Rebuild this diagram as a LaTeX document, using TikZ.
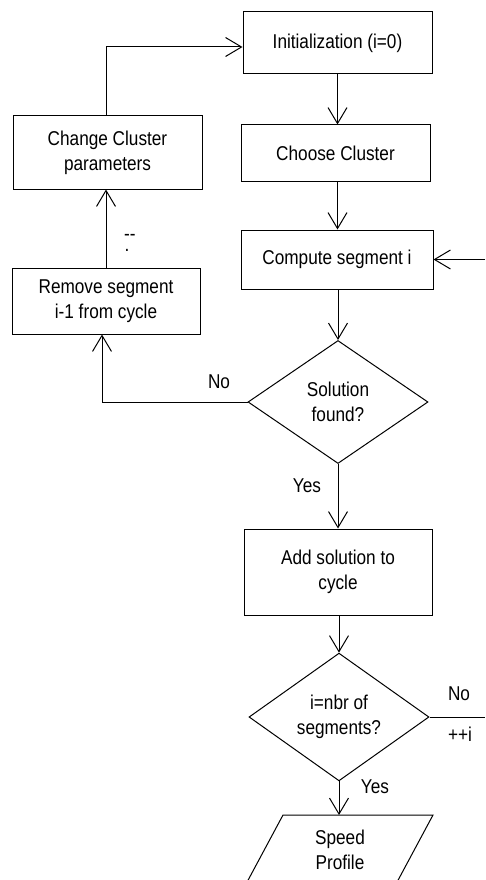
\documentclass[tikz,border=0pt]{standalone}
\usepackage{fontspec}
\setmainfont{Liberation Sans}[FakeStretch=0.86]
\usetikzlibrary{arrows.meta,shapes.geometric}

\tikzset{
  every node/.style={font=\fontsize{20}{25}\selectfont},
  procbox/.style={draw, line width=1pt, rectangle, inner sep=0pt, align=center},
  decision/.style={draw, line width=1pt, diamond, inner sep=0pt, align=center,
    minimum width=180pt, minimum height=123pt},
  link/.style={line width=1pt},
  flow/.style={link, -{Straight Barb[length=16pt,width=19pt,line width=1pt]}},
  tag/.style={inner sep=0pt}
}

\begin{document}
\begin{tikzpicture}[x=1pt,y=-1pt]
  \useasboundingbox (0,0) rectangle (485,880);

  % process boxes
  \node[procbox, minimum width=189pt, minimum height=62pt] (init) at (337.5,43) {Initialization (i=0)};
  \node[procbox, minimum width=189pt, minimum height=56pt] (choose) at (335.5,153) {Choose Cluster};
  \node[procbox, minimum width=189pt, minimum height=73pt] (change) at (107.5,152.5) {Change Cluster\\parameters};
  \node[procbox, minimum width=192pt, minimum height=59pt] (compute) at (337,259.5) {Compute segment i};
  \node[procbox, minimum width=188pt, minimum height=66pt] (remove) at (106,301) {Remove segment\\i-1 from cycle};
  \node[procbox, minimum width=188pt, minimum height=86pt] (add) at (338,572) {Add solution to\\cycle};

  % decisions
  \node[decision] (found) at (338,402) {Solution\\found?};
  \node[decision, minimum height=125pt] (last) at (339,717) {i=nbr of\\segments?};

  % output parallelogram (runs past the lower edge)
  \coordinate (spdtop) at (339,815);
  \draw[link] (283,815) -- (433,815) -- (390.1,895) -- (240.1,895) -- cycle;
  \node[tag, align=center] (speed) at (340,850) {Speed\\Profile};

  % side coordinates
  \coordinate (rightlow) at (485,717);
  \coordinate (rightup) at (485,259.5);

  % main column
  \draw[flow] (init.south) -- (init.south |- choose.north);
  \draw[flow] (init.south |- choose.south) -- (init.south |- compute.north);
  \draw[flow] (compute.south -| found.north) -- (found.north);
  \draw[flow] (found.south) -- (found.south |- add.north);
  \draw[flow] (add.south -| last.north) -- (last.north);
  \draw[flow] (last.south) -- (spdtop);

  % failure loop
  \draw[flow] (found.west) -| ([xshift=-4pt]remove.south);
  \draw[flow] (remove.north) -- (remove.north |- change.south);
  \draw[flow] (remove.north |- change.north) |- ([yshift=-4pt]init.west);

  % next segment loop
  \draw[link] (last.east) -- (rightlow);
  \draw[flow] (rightup) -- (compute.east);

  % labels
  \node[tag] (lno1) at (219,382) {No};
  \node[tag] (lyes1) at (307,486) {Yes};
  \node[tag] (lno2) at (459,694) {No};
  \node[tag] (linc) at (460,734) {++i};
  \node[tag] (lyes2) at (375,787) {Yes};
  % decrement mark: two dashes with a dot set just below the first one
  \node[tag, anchor=base west] (ldec) at (124,240) {\rlap{\hspace{0.5pt}\raisebox{-11pt}{.}}-{}-};
\end{tikzpicture}
\end{document}
